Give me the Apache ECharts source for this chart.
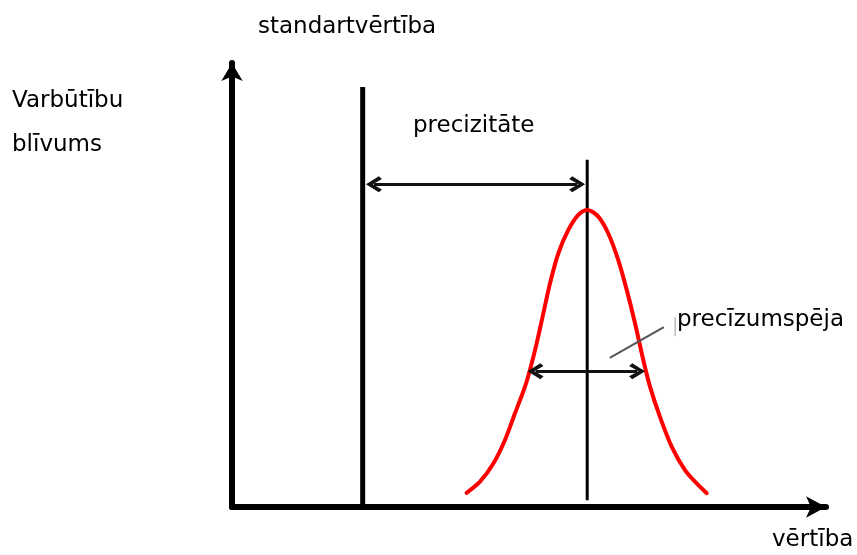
<!DOCTYPE html>
<html>
<head>
<meta charset="utf-8">
<script src="https://cdn.jsdelivr.net/npm/echarts@6/dist/echarts.min.js"></script>
<style>html,body{margin:0;padding:0;background:#fff}#c{width:857px;height:555px}</style>
</head>
<body>
<div id="c"></div>
<script>
// Bell curve points (x, density)
const curveX = [39.5, 41.75, 44.0, 45.96, 47.64, 49.33, 50.17, 51.3, 52.41, 53.54, 54.93, 56.62, 58.3, 59.85,
                61.67, 63.35, 65.03, 66.45, 67.85, 69.24, 70.37, 72.05, 74.02, 76.26, 78.23, 79.92];
const curveY = [3.2, 5.7, 9.8, 15.1, 21.1, 27.1, 30.9, 36.9, 43.6, 50.4, 57.1, 62.4, 65.8, 66.9,
                65.4, 61.6, 55.6, 48.9, 41.4, 33.1, 27.1, 20.3, 13.6, 8.3, 5.3, 3.1];
// Reference (standard) value line and mean line
const standardX = 22;
const standardTop = 94.6;
const meanX = 59.8;
const meanTop = 78.2;
const meanBottom = 1.5;
// Accuracy arrow (precizitāte) and precision arrow (precīzumspēja)
const accuracyY = 72.7;
const accuracyFrom = 23.9;
const accuracyTo = 58.1;
const precisionY = 30.6;
const precisionFrom = 51.1;
const precisionTo = 68.2;
// Leader line to precision label
const leaderX = [63.6, 72.7];
const leaderY = [33.6, 40.5];
const cursorX = 74.6;
const cursorY = [38.5, 42.8];
// Texts
const labels = {
  standard: 'standartvērtība',
  yTitle1: 'Varbūtību',
  yTitle2: 'blīvums',
  accuracy: 'precizitāte',
  precision: 'precīzumspēja',
  xTitle: 'vērtība'
};

const chevron = 'path://M8,0 L16,12.5 L13.2,15.5 L8,6.5 L2.8,15.5 L0,12.5 Z';
const font = '23px "DejaVu Sans", sans-serif';

const chart = echarts.init(document.getElementById('c'));
chart.setOption({
  animation: false,
  backgroundColor: '#fff',
  grid: {left: 232, right: 31, top: 63, bottom: 48},
  xAxis: {
    type: 'value', min: 0, max: 100,
    axisLine: {show: true, symbol: ['none', 'arrow'], symbolSize: [16, 20],
      lineStyle: {color: '#000', width: 6}},
    axisTick: {show: false}, axisLabel: {show: false}, splitLine: {show: false}
  },
  yAxis: {
    type: 'value', min: 0, max: 100,
    axisLine: {show: true, symbol: ['none', 'arrow'], symbolSize: [16, 18],
      lineStyle: {color: '#000', width: 6}},
    axisTick: {show: false}, axisLabel: {show: false}, splitLine: {show: false}
  },
  series: [
    {
      type: 'line', data: [[standardX, 0], [standardX, standardTop]], symbol: 'none',
      lineStyle: {color: '#000', width: 5}, silent: true
    },
    {
      type: 'line', data: [[meanX, meanBottom], [meanX, meanTop]], symbol: 'none',
      lineStyle: {color: '#000', width: 3}, silent: true
    },
    {
      type: 'line', data: curveX.map((x, i) => [x, curveY[i]]), symbol: 'none',
      smooth: 0.3,
      lineStyle: {color: '#ff0000', width: 4, join: 'round', cap: 'round'}, silent: true, z: 3
    },
    {
      type: 'line', data: [[leaderX[0], leaderY[0]], [leaderX[1], leaderY[1]]], symbol: 'none',
      lineStyle: {color: '#555', width: 2}, silent: true
    },
    {
      type: 'line', data: [[cursorX, cursorY[0]], [cursorX, cursorY[1]]], symbol: 'none',
      lineStyle: {color: '#999', width: 1}, silent: true
    },
    {
      type: 'line', data: [], silent: true,
      markLine: {
        silent: true, animation: false,
        symbol: [chevron, chevron], symbolSize: [16, 16],
        label: {show: false},
        lineStyle: {color: '#111', width: 3, type: 'solid'},
        data: [
          [{coord: [accuracyFrom, accuracyY]}, {coord: [accuracyTo, accuracyY]}],
          [{coord: [precisionFrom, precisionY]}, {coord: [precisionTo, precisionY]}]
        ]
      }
    }
  ],
  graphic: [
    {type: 'text', x: 258, y: 27, style: {text: labels.standard, font: font, fill: '#000', align: 'left', verticalAlign: 'middle'}},
    {type: 'text', x: 12, y: 101, style: {text: labels.yTitle1, font: font, fill: '#000', align: 'left', verticalAlign: 'middle'}},
    {type: 'text', x: 12, y: 145, style: {text: labels.yTitle2, font: font, fill: '#000', align: 'left', verticalAlign: 'middle'}},
    {type: 'text', x: 413, y: 126, style: {text: labels.accuracy, font: font, fill: '#000', align: 'left', verticalAlign: 'middle'}},
    {type: 'text', x: 677, y: 320, style: {text: labels.precision, font: font, fill: '#000', align: 'left', verticalAlign: 'middle'}},
    {type: 'text', x: 772, y: 540, style: {text: labels.xTitle, font: font, fill: '#000', align: 'left', verticalAlign: 'middle'}}
  ]
});
</script>
</body>
</html>
